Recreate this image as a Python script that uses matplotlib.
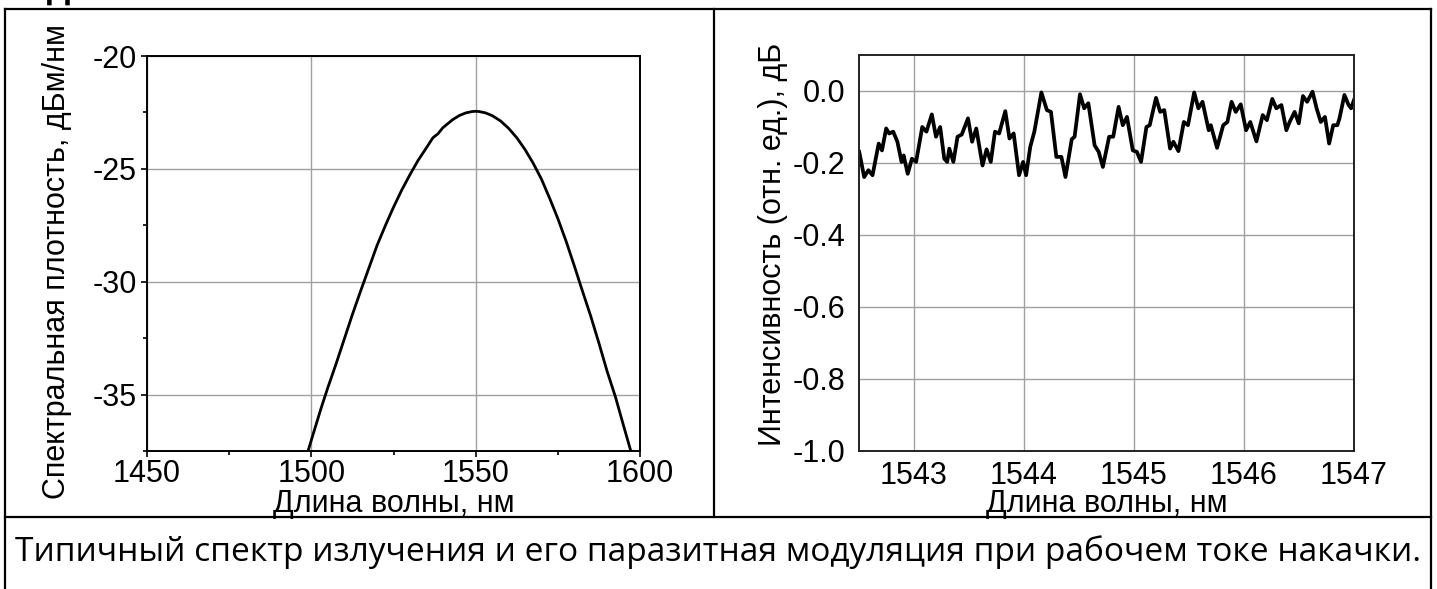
import matplotlib
matplotlib.use("Agg")
import matplotlib.pyplot as plt
from matplotlib.lines import Line2D
from matplotlib.ticker import MultipleLocator

# ---------------- data ----------------
wl_spectrum = [1499.0, 1501.0, 1503.0, 1505.0, 1507.5, 1510.0, 1512.5, 1515.0, 1517.5, 1520.0,
               1522.5, 1525.0, 1527.5, 1530.0, 1532.5, 1535.0, 1537.0, 1538.5, 1540.0, 1541.5,
               1543.0, 1545.0, 1547.0, 1549.0, 1550.0, 1551.0, 1553.0, 1555.0, 1557.5, 1560.0,
               1562.5, 1565.0, 1567.5, 1570.0, 1572.5, 1575.0, 1577.5, 1580.0, 1582.5, 1585.0,
               1587.5, 1590.0, 1592.5, 1595.0, 1597.2]
psd_spectrum = [-37.50, -36.54, -35.59, -34.70, -33.65, -32.55, -31.45, -30.41, -29.40, -28.39,
                -27.52, -26.70, -25.94, -25.26, -24.62, -24.07, -23.62, -23.45, -23.18, -23.00,
                -22.82, -22.64, -22.52, -22.46, -22.45, -22.46, -22.52, -22.64, -22.87, -23.20,
                -23.62, -24.14, -24.75, -25.45, -26.30, -27.20, -28.20, -29.29, -30.42, -31.52,
                -32.72, -33.97, -35.09, -36.38, -37.50]

wl_mod = [1542.502, 1542.547, 1542.585, 1542.623, 1542.679, 1542.709, 1542.747, 1542.774, 1542.811, 1542.849,
          1542.887, 1542.906, 1542.943, 1542.981, 1543.019, 1543.075, 1543.113, 1543.162, 1543.200, 1543.238,
          1543.275, 1543.302, 1543.321, 1543.358, 1543.396, 1543.434, 1543.491, 1543.528, 1543.566, 1543.623,
          1543.660, 1543.698, 1543.736, 1543.774, 1543.830, 1543.868, 1543.906, 1543.955, 1543.992, 1544.019,
          1544.057, 1544.094, 1544.158, 1544.208, 1544.245, 1544.294, 1544.340, 1544.377, 1544.434, 1544.460,
          1544.509, 1544.547, 1544.585, 1544.642, 1544.679, 1544.717, 1544.774, 1544.811, 1544.860, 1544.898,
          1544.936, 1544.989, 1545.026, 1545.064, 1545.113, 1545.143, 1545.200, 1545.238, 1545.275, 1545.328,
          1545.358, 1545.404, 1545.453, 1545.491, 1545.547, 1545.585, 1545.623, 1545.679, 1545.698, 1545.755,
          1545.811, 1545.849, 1545.887, 1545.925, 1545.970, 1546.019, 1546.057, 1546.113, 1546.170, 1546.208,
          1546.257, 1546.294, 1546.340, 1546.385, 1546.415, 1546.460, 1546.498, 1546.536, 1546.574, 1546.623,
          1546.660, 1546.698, 1546.736, 1546.774, 1546.811, 1546.849, 1546.868, 1546.913, 1546.951, 1546.974,
          1547.000]
int_mod = [-0.169, -0.239, -0.220, -0.234, -0.146, -0.165, -0.104, -0.118, -0.113, -0.141,
           -0.197, -0.179, -0.230, -0.188, -0.197, -0.100, -0.113, -0.065, -0.127, -0.100,
           -0.188, -0.197, -0.160, -0.197, -0.127, -0.121, -0.076, -0.141, -0.104, -0.207,
           -0.162, -0.197, -0.113, -0.118, -0.056, -0.132, -0.118, -0.234, -0.197, -0.234,
           -0.155, -0.113, -0.004, -0.053, -0.058, -0.183, -0.183, -0.239, -0.134, -0.127,
           -0.009, -0.048, -0.034, -0.151, -0.169, -0.211, -0.127, -0.127, -0.044, -0.095,
           -0.072, -0.165, -0.169, -0.197, -0.100, -0.095, -0.019, -0.058, -0.053, -0.160,
           -0.141, -0.167, -0.086, -0.095, -0.004, -0.048, -0.030, -0.109, -0.095, -0.158,
           -0.095, -0.086, -0.030, -0.058, -0.037, -0.109, -0.086, -0.140, -0.067, -0.081,
           -0.022, -0.048, -0.039, -0.109, -0.086, -0.058, -0.090, -0.014, -0.030, -0.002,
           -0.048, -0.086, -0.072, -0.146, -0.095, -0.095, -0.076, -0.011, -0.039, -0.048,
           -0.025]

left_xticks = [1450, 1500, 1550, 1600]
left_yticks = [-20, -25, -30, -35]
right_xticks = [1543, 1544, 1545, 1546, 1547]
right_yticks = [0.0, -0.2, -0.4, -0.6, -0.8, -1.0]

left_ylabel = "Спектральная плотность, дБм/нм"
right_ylabel = "Интенсивность (отн. ед.), дБ"
xlabel = "Длина волны, нм"
caption = "Типичный спектр излучения и его паразитная модуляция при рабочем токе накачки."

# ---------------- figure ----------------
W, H = 1437, 589
fig = plt.figure(figsize=(W / 100, H / 100), dpi=100)
fig.patch.set_facecolor("white")

FONT = ["Liberation Sans", "DejaVu Sans"]
FS = 22


def fx(px):
    return px / W


def fy(py):
    return 1 - py / H


# left axes: x 147-640, y 56-451
LX0, LX1, LY0, LY1 = 147, 640, 56, 451
axL = fig.add_axes([fx(LX0), fy(LY1), (LX1 - LX0) / W, (LY1 - LY0) / H])
axL.plot(wl_spectrum, psd_spectrum, color="black", lw=2.0, solid_joinstyle="round")
axL.set_xlim(1450, 1600)
axL.set_ylim(-37.5, -20)
axL.set_xticks(left_xticks)
axL.set_yticks(left_yticks)
axL.xaxis.set_minor_locator(MultipleLocator(25))
axL.yaxis.set_minor_locator(MultipleLocator(2.5))
axL.grid(True, which="major", color="#a0a0a0", lw=1.0)
axL.tick_params(which="major", direction="out", length=4.5, width=1.2, pad=3,
                top=False, right=False, labelsize=FS)
axL.tick_params(axis="x", which="major", pad=1.5)
axL.tick_params(which="minor", direction="out", length=3, width=1.2, top=False, right=False)
for s in axL.spines.values():
    s.set_color("black")
    s.set_linewidth(1.4)
axL.set_ylabel(left_ylabel, fontsize=FS, family=FONT)
axL.yaxis.set_label_coords((72 - LX0) / (LX1 - LX0), 0.48)
axL.set_xlabel(xlabel, fontsize=FS, family=FONT)
axL.xaxis.set_label_coords(0.5, (LY1 - 489) / (LY1 - LY0))
for lab in axL.get_xticklabels() + axL.get_yticklabels():
    lab.set_family(FONT)
axL.set_yticklabels([str(v) for v in left_yticks])

# right axes: x 859-1354, y 55-451
RX0, RX1, RY0, RY1 = 859, 1354, 55, 451
axR = fig.add_axes([fx(RX0), fy(RY1), (RX1 - RX0) / W, (RY1 - RY0) / H])
axR.plot(wl_mod, int_mod, color="black", lw=2.7, solid_joinstyle="round")
axR.set_xlim(1542.5, 1547)
axR.set_ylim(-1.0, 0.1)
axR.set_xticks(right_xticks)
axR.set_yticks(right_yticks)
axR.set_yticklabels([f"{v:.1f}" for v in right_yticks])
axR.grid(True, which="major", color="#a0a0a0", lw=1.0)
axR.tick_params(which="major", length=0, labelsize=FS)
axR.tick_params(axis="y", pad=10)
axR.tick_params(axis="x", pad=7)
for s in axR.spines.values():
    s.set_color("#222222")
    s.set_linewidth(1.4)
axR.set_ylabel(right_ylabel, fontsize=FS, family=FONT)
axR.yaxis.set_label_coords((788 - RX0) / (RX1 - RX0), 0.523)
axR.set_xlabel(xlabel, fontsize=FS, family=FONT)
axR.xaxis.set_label_coords(0.5, (RY1 - 489) / (RY1 - RY0))
for lab in axR.get_xticklabels() + axR.get_yticklabels():
    lab.set_family(FONT)

# ---------------- table frame ----------------
lw_frame = 1.6
frame = [((5, 9), (1431, 9)), ((5, 9), (5, 589)), ((1431, 9), (1431, 589)),
         ((714, 9), (714, 517)), ((5, 517), (1431, 517))]
for (x0, y0), (x1, y1) in frame:
    fig.add_artist(Line2D([fx(x0), fx(x1)], [fy(y0), fy(y1)], color="black", lw=lw_frame,
                          solid_capstyle="projecting"))

# cut-off heading letter at the very top
fig.text(fx(47), fy(-1), "Д", fontsize=22, fontweight="bold", family=["Open Sans", "DejaVu Sans"],
         va="baseline", ha="left")

# caption, fitted to width
cap = fig.text(0.5, fy(552), caption, ha="center", va="center",
               family=["Open Sans", "DejaVu Sans"], fontsize=20)
fig.canvas.draw()
r = fig.canvas.get_renderer()
bb = cap.get_window_extent(renderer=r)
cap.set_fontsize(20 * 1404 / bb.width)

fig.savefig("out.png", dpi=100, facecolor="white")
